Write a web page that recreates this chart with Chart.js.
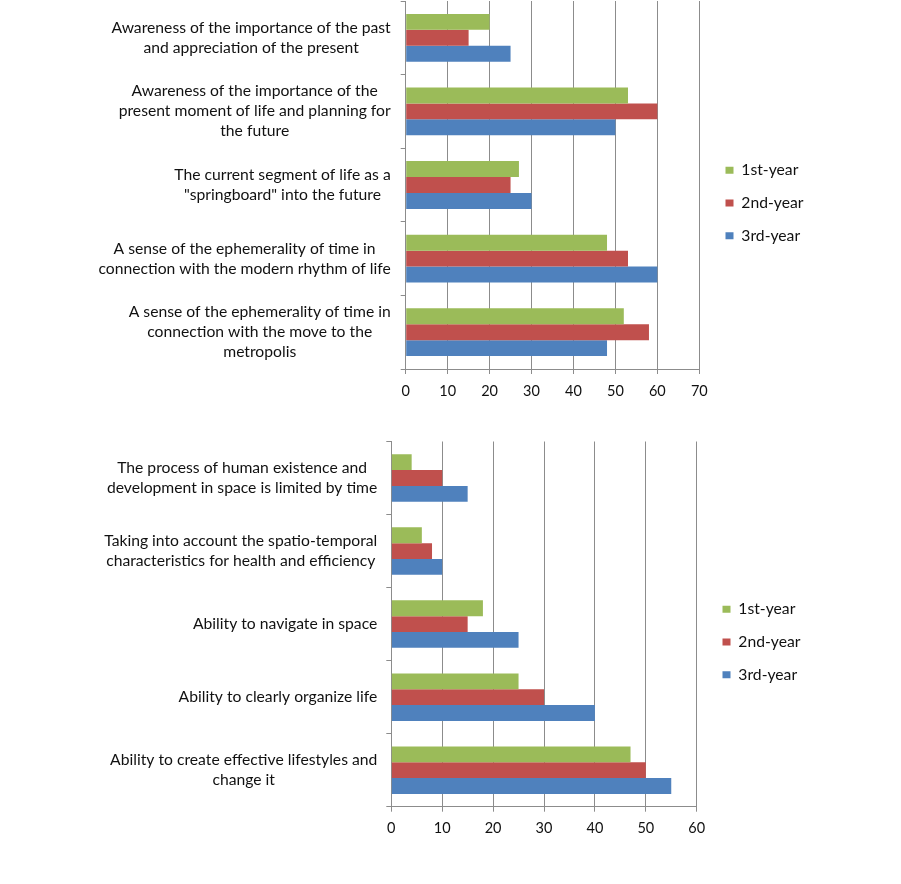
<!DOCTYPE html>
<html><head><meta charset="utf-8">
<script src="https://cdn.jsdelivr.net/npm/chart.js@4.4.0/dist/chart.umd.min.js"></script>
<style>
html,body{margin:0;padding:0;background:#fff;width:901px;height:884px;overflow:hidden}
.wrap{position:absolute;left:0;width:901px}
</style></head><body>
<div class="wrap" style="top:0;height:410px"><canvas id="c1"></canvas></div>
<div class="wrap" style="top:436px;height:448px"><canvas id="c2"></canvas></div>
<script>
// ---------- data ----------
const seriesNames = ['1st-year', '2nd-year', '3rd-year'];

const topCategories = [
  ['Awareness of the importance of the past', 'and appreciation of the present'],
  ['Awareness of the importance of the', 'present moment of life and planning for', 'the future'],
  ['The current segment of life as a', '"springboard" into the future'],
  ['A sense of the ephemerality of time in', 'connection with the modern rhythm of life'],
  ['A sense of the ephemerality of time in', 'connection with the move to the', 'metropolis']
];
const top1st = [20, 53, 27, 48, 52];
const top2nd = [15, 60, 25, 53, 58];
const top3rd = [25, 50, 30, 60, 48];
const topTicks = [0, 10, 20, 30, 40, 50, 60, 70];

const bottomCategories = [
  ['The process of human existence and', 'development in space is limited by time'],
  ['Taking into account the spatio-temporal', 'characteristics for health and efficiency'],
  ['Ability to navigate in space'],
  ['Ability to clearly organize life'],
  ['Ability to create effective lifestyles and', 'change it']
];
const bottom1st = [4, 6, 18, 25, 47];
const bottom2nd = [10, 8, 15, 30, 50];
const bottom3rd = [15, 10, 25, 40, 55];
const bottomTicks = [0, 10, 20, 30, 40, 50, 60];

// ---------- styles ----------
const colors = ['#9BBB59', '#C0504D', '#4F81BD'];
const gridColor = '#8c8c8c';
const FONT = 'Lato, "Open Sans", sans-serif';
const LABEL_SIZE = 15.7;
Chart.defaults.font.family = FONT;
Chart.defaults.font.size = 14;
Chart.defaults.color = '#000';

const catLabelPlugin = {
  id: 'catLabels',
  afterDraw(chart, args, opts) {
    const s = chart.scales.y, ctx = chart.ctx;
    ctx.save();
    ctx.font = LABEL_SIZE + 'px ' + FONT;
    ctx.fillStyle = '#111';
    ctx.textBaseline = 'middle';
    ctx.textAlign = 'center';
    s.ticks.forEach((t, i) => {
      const lines = [].concat(chart.data.labels[i]);
      const w = Math.max(...lines.map(l => ctx.measureText(l).width));
      const cx = s.right - opts.gap - w / 2;
      const y0 = s.getPixelForTick(i) - (lines.length - 1) * opts.lineHeight / 2;
      lines.forEach((l, j) => ctx.fillText(l, cx, y0 + j * opts.lineHeight));
    });
    ctx.restore();
  }
};

function makeChart(id, cats, vals, ticks, g) {
  return new Chart(document.getElementById(id), {
    type: 'bar',
    data: {
      labels: cats,
      datasets: vals.map((v, i) => ({
        label: seriesNames[i], data: v, backgroundColor: colors[i],
        borderWidth: 0, categoryPercentage: 0.65, barPercentage: 1
      }))
    },
    plugins: [catLabelPlugin],
    options: {
      indexAxis: 'y',
      responsive: true, maintainAspectRatio: false, animation: false,
      layout: { padding: { left: 0, right: g.padRight, top: g.padTop, bottom: g.padBottom } },
      plugins: {
        tooltip: { enabled: false },
        catLabels: { gap: g.labelGap, lineHeight: g.lineHeight },
        legend: {
          position: 'right', align: 'center', maxWidth: 100,
          labels: { boxWidth: 8, boxHeight: 7, padding: g.legendPad, color: '#111',
                    font: { size: LABEL_SIZE } }
        }
      },
      scales: {
        x: {
          min: ticks[0], max: ticks[ticks.length - 1],
          ticks: { stepSize: ticks[1] - ticks[0], padding: g.xTickPad, color: '#111', font: { size: 14.5 } },
          grid: { color: gridColor, lineWidth: 1, tickLength: 5, drawTicks: true },
          border: { color: gridColor },
          afterFit(s) { s.height = g.xAxisH; }
        },
        y: {
          ticks: { display: false },
          grid: { drawOnChartArea: false, color: gridColor, tickLength: 5, offset: true },
          border: { color: gridColor },
          afterFit(s) { s.width = g.yAxisW; }
        },
        gap: {
          type: 'linear', position: 'right', display: true,
          grid: { display: false, drawTicks: false }, ticks: { display: false },
          border: { display: false },
          afterFit(s) { s.width = g.gapW; }
        }
      }
    }
  });
}

makeChart('c1', topCategories, [top1st, top2nd, top3rd], topTicks, {
  padRight: 92.5, padTop: 1, padBottom: 5, xAxisH: 36, yAxisW: 405.7, gapW: 9.2,
  legendPad: 17, xTickPad: 9, labelGap: 15, lineHeight: 20
});
makeChart('c2', bottomCategories, [bottom1st, bottom2nd, bottom3rd], bottomTicks, {
  padRight: 95.5, padTop: 5.5, padBottom: 41.5, xAxisH: 35.8, yAxisW: 391.3, gapW: 8.8,
  legendPad: 17, xTickPad: 8, labelGap: 14, lineHeight: 20.5
});
</script>
</body></html>
